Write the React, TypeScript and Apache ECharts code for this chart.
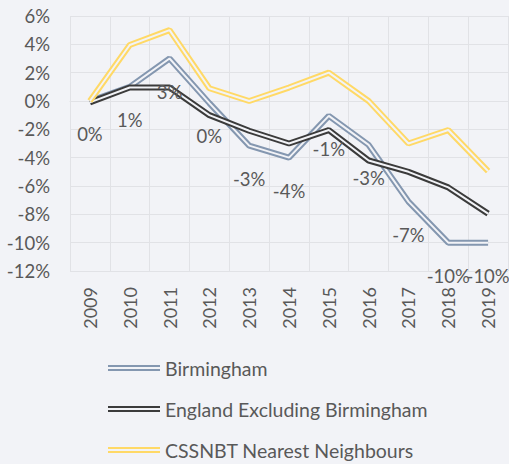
import React, { useEffect, useRef } from "react";
import * as echarts from "echarts";

const categories = ["2009", "2010", "2011", "2012", "2013", "2014", "2015", "2016", "2017", "2018", "2019"];
const birmingham = [0, 1.0, 3.0, -0.15, -3.15, -4.0, -1.05, -3.1, -7.1, -10.0, -10.0];
const england = [-0.1, 0.95, 0.95, -1.0, -2.1, -3.0, -2.05, -4.2, -5.0, -6.1, -7.95];
const cssnbt = [0, 3.95, 5.0, 0.9, 0.0, 0.95, 2.0, 0.0, -3.0, -2.05, -4.95];
const seriesNames = ["Birmingham", "England Excluding Birmingham", "CSSNBT Nearest Neighbours"];

const BG = "#F2F3F7";
const GRID = "#E1E2E6";
const TEXT = "#595959";
const FONT = "Lato";
const COLORS = ["#8497B0", "#3B3B3B", "#FFD966"];
const ICON = "path://M0,0H52V2H0Z M0,4H52V6H0Z";

export default function App() {
  const ref = useRef<HTMLDivElement>(null);
  useEffect(() => {
    const chart = echarts.init(ref.current!, null, { renderer: "svg" });
    const datasets = [birmingham, england, cssnbt];
    const series: any[] = [];
    datasets.forEach((d, i) => {
      series.push({
        name: seriesNames[i],
        type: "line",
        data: d,
        symbol: "circle",
        symbolSize: 0,
        showSymbol: i === 0,
        itemStyle: { color: COLORS[i] },
        lineStyle: { color: COLORS[i], width: 6 },
        emphasis: { disabled: true },
        label:
          i === 0
            ? {
                show: true,
                position: "inside",
                offset: [0, 33],
                color: TEXT,
                fontFamily: FONT,
                fontSize: 18.5,
                formatter: (p: any) => Math.round(p.value) + "%",
              }
            : { show: false },
        z: 2,
      });
      series.push({
        name: seriesNames[i] + "_inner",
        type: "line",
        data: d,
        symbol: "none",
        showSymbol: false,
        lineStyle: { color: BG, width: 2 },
        emphasis: { disabled: true },
        z: 2,
      });
    });
    chart.setOption({
      animation: false,
      backgroundColor: BG,
      textStyle: { fontFamily: FONT },
      grid: { left: 70, right: 1, top: 16, bottom: 193 },
      legend: {
        orient: "vertical",
        left: 108,
        top: 357,
        padding: 0,
        height: 120,
        itemWidth: 52,
        itemHeight: 6,
        itemGap: 19,
        selectedMode: false,
        data: seriesNames.map((n, i) => ({
          name: n,
          icon: ICON,
          itemStyle: { color: COLORS[i], borderWidth: 0, opacity: 1 },
        })),
        textStyle: { color: TEXT, fontFamily: FONT, fontSize: 19.5, lineHeight: 22 },
      },
      xAxis: {
        type: "category",
        data: categories,
        boundaryGap: true,
        axisTick: { show: false },
        axisLine: { show: true, lineStyle: { color: GRID, width: 1 } },
        splitLine: { show: true, lineStyle: { color: GRID, width: 1 } },
        axisLabel: { rotate: 90, margin: 16, color: TEXT, fontFamily: FONT, fontSize: 18 },
      },
      yAxis: {
        type: "value",
        min: -12,
        max: 6,
        interval: 2,
        axisLine: { show: false },
        axisTick: { show: false },
        splitLine: { show: true, lineStyle: { color: GRID, width: 1 } },
        axisLabel: { formatter: "{value}%", margin: 20, color: TEXT, fontFamily: FONT, fontSize: 18.5 },
      },
      series,
    });
    return () => chart.dispose();
  }, []);
  return (
    <div
      ref={ref}
      style={{ position: "absolute", left: 0, top: 0, width: 509, height: 464, background: BG }}
    />
  );
}
